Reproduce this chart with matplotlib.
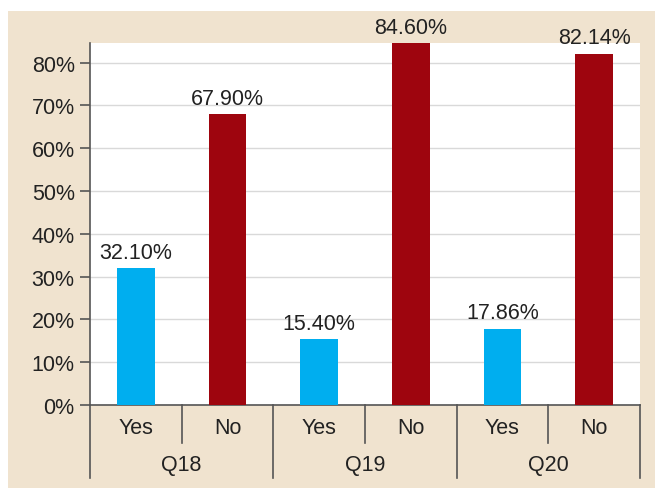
import numpy as np
import matplotlib
matplotlib.use('Agg')
import matplotlib.pyplot as plt
import matplotlib.transforms as mtransforms
from matplotlib.patches import Rectangle

plt.rcParams['font.family'] = ['Liberation Sans', 'DejaVu Sans']

# data
groups = ['Q18', 'Q19', 'Q20']
answers = ['Yes', 'No']
values = [0.3210, 0.6790, 0.1540, 0.8460, 0.1786, 0.8214]
labels = ['32.10%', '67.90%', '15.40%', '84.60%', '17.86%', '82.14%']
colors = ['#00AEEF', '#9E050E'] * 3

fs = 15.5
W, H = 655, 489
fig = plt.figure(figsize=(W/100, H/100), dpi=100)
fig.patch.set_facecolor('white')
# beige panel behind the axes
fig.patches.append(Rectangle((8/W, 0), 1 - 8/W, 1 - 12/H, transform=fig.transFigure,
                             facecolor='#F0E3CF', edgecolor='none', zorder=-10))

ax = fig.add_axes([90/W, (H-406)/H, 550/W, 362/H])
ax.set_zorder(1)
ax.set_facecolor('white')

x = np.arange(len(values))
ax.bar(x, values, width=0.41, color=colors, zorder=3)
for xi, v, lab in zip(x, values, labels):
    ax.text(xi, v + 0.012, lab, ha='center', va='bottom', fontsize=fs, color='#222222', clip_on=False)

ax.set_xlim(-0.5, len(values) - 0.5)
ax.set_ylim(0, 0.846)
ticks = np.round(np.arange(0, 0.81, 0.1), 2)
ax.set_yticks(ticks)
ax.set_yticklabels(['%d%%' % round(t*100) for t in ticks], fontsize=fs, color='#222222')
ax.grid(axis='y', color='#D9D9D9', linewidth=1, zorder=0)
ax.set_axisbelow(True)
ax.tick_params(axis='y', length=7, width=1.2, color='#555555', pad=4)
ax.set_xticks([])
for s in ['top', 'right']:
    ax.spines[s].set_visible(False)
ax.spines['left'].set_color('#555555')
ax.spines['left'].set_linewidth(1.2)
ax.spines['bottom'].set_color('#555555')
ax.spines['bottom'].set_linewidth(1.2)

# category axis labels and separators
trans = mtransforms.blended_transform_factory(ax.transData, ax.transAxes)
px = 1 / 362
for i, xi in enumerate(x):
    ax.text(xi, -23*px, answers[i % 2], transform=trans, ha='center', va='center',
            fontsize=fs, color='#222222')
for g, name in enumerate(groups):
    ax.text(2*g + 0.5, -60*px, name, transform=trans, ha='center', va='center',
            fontsize=fs, color='#222222')
    # small separator between Yes and No
    ax.plot([2*g + 0.5]*2, [0, -38*px], transform=trans, color='#555555', lw=1.2, clip_on=False)
for b in range(len(groups) + 1):
    ax.plot([2*b - 0.5]*2, [0, -73*px], transform=trans, color='#555555', lw=1.2, clip_on=False)

fig.savefig('out.png', dpi=100, facecolor=fig.get_facecolor())
